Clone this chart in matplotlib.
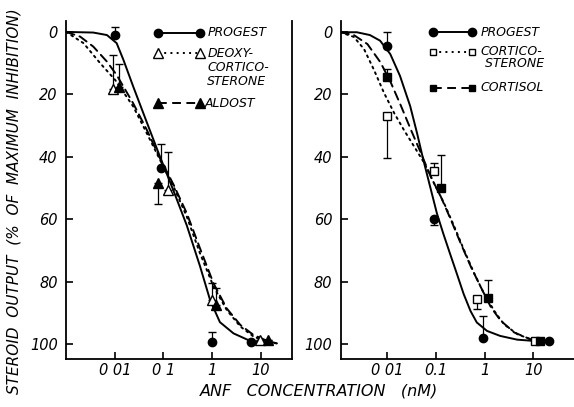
import numpy as np
import matplotlib
matplotlib.use("Agg")
import matplotlib.pyplot as plt

# ---------------- data: left panel ----------------
L_prog_x = [0.01, 0.088, 1.0, 6.2]
L_prog_y = [1, 43.5, 99.3, 99.3]
L_prog_eup = [2.5, 7.5, 3.3, 0]
L_prog_edn = [0, 0, 0, 0]

L_deoxy_x = [0.0093, 0.126, 1.0, 9.6]
L_deoxy_y = [18.4, 50.6, 85.9, 98.7]
L_deoxy_eup = [11, 12.2, 5.6, 0]
L_deoxy_edn = [0, 0, 0, 0]

L_aldo_x = [0.0123, 0.079, 1.2, 13.8]
L_aldo_y = [17.5, 48.5, 87.5, 98.7]
L_aldo_eup = [7.2, 0, 5.3, 0]
L_aldo_edn = [0, 6.5, 0, 0]

# fitted curves (log10 conc, % inhibition)
L_prog_cx = [-3.0, -2.44, -2.16, -1.96, -1.82, -1.62, -1.34, -1.07, -0.8, -0.52, -0.25, -0.04, 0.16, 0.44, 0.78, 1.23]
L_prog_cy = [0, 0.2, 1, 3.6, 9, 17.5, 29, 40, 50.6, 62, 75, 86, 93, 96.6, 99, 99.8]
L_deoxy_cx = [-3.0, -2.64, -2.30, -1.99, -1.62, -1.34, -1.07, -0.79, -0.52, -0.25, 0.03, 0.30, 0.58, 0.85, 1.12, 1.33]
L_deoxy_cy = [0, 3.6, 10, 15.4, 23.9, 32.5, 41, 49.6, 59.2, 70.9, 81.6, 89.1, 94.4, 97.6, 99.3, 99.8]
L_aldo_cx = [-3.0, -2.71, -2.44, -2.16, -1.96, -1.62, -1.34, -1.07, -0.79, -0.52, -0.25, 0.03, 0.30, 0.58, 0.85, 1.12, 1.33]
L_aldo_cy = [0, 1.5, 4.7, 9.5, 13.8, 22.9, 31.4, 40.5, 49, 58.1, 69.3, 80.6, 88.6, 93.9, 97.1, 98.9, 99.8]

# ---------------- data: right panel ----------------
R_prog_x = [0.01, 0.091, 0.93, 21]
R_prog_y = [4.4, 59.8, 98.2, 99]
R_prog_eup = [4.4, 0, 7.2, 0]
R_prog_edn = [0, 2, 0, 0]

R_cortico_x = [0.01, 0.089, 0.7, 11]
R_cortico_y = [27, 44.7, 85.6, 99]
R_cortico_eup = [0, 2.7, 0, 0]
R_cortico_edn = [13.4, 0, 3.2, 0]

R_cortisol_x = [0.01, 0.126, 1.15, 14]
R_cortisol_y = [14.6, 50.1, 85.1, 99]
R_cortisol_eup = [2.6, 10.7, 5.6, 0]
R_cortisol_edn = [0, 0, 0, 0]

R_prog_cx = [-2.97, -2.63, -2.36, -2.15, -1.94, -1.74, -1.53, -1.39, -1.26, -1.12, -0.98, -0.85, -0.71, -0.57, -0.43, -0.29, -0.16, 0.05, 0.32, 0.67, 1.01]
R_prog_cy = [0.1, 0.1, 1, 2.8, 7.1, 14.1, 23.8, 32.4, 41, 49.6, 58.2, 64.6, 71.1, 77.5, 84, 89.4, 93.1, 95.8, 97.4, 98.6, 99]
R_cortisol_cx = [-2.97, -2.69, -2.41, -2.14, -1.93, -1.72, -1.52, -1.31, -1.11, -0.90, -0.69, -0.49, -0.28, -0.08, 0.13, 0.33, 0.61, 0.95, 1.22]
R_cortisol_cy = [0.1, 1, 3.9, 9.8, 16.2, 23.7, 31.2, 38.8, 46.3, 52.8, 60.3, 67.8, 75.3, 81.7, 88.2, 92.5, 96.3, 98.5, 99]
R_cortico_cx = [-2.97, -2.69, -2.48, -2.28, -2.07, -1.86, -1.66, -1.45, -1.24, -1.04, -0.83, -0.62, -0.42, -0.21, -0.01, 0.20, 0.40, 0.68, 0.95]
R_cortico_cy = [0.1, 1.6, 5.5, 12, 19.5, 26, 31.4, 36.7, 42, 48.5, 55, 62.5, 70, 77.5, 83.9, 89.4, 93.7, 96.9, 98.5]

xtick_vals = [0.01, 0.1, 1, 10]
L_xticklabels = ["0 01", "0 1", "1", "10"]
R_xticklabels = ["0 01", "0.1", "1", "10"]
ytick_vals = [0, 20, 40, 60, 80, 100]
ytick_labels = ["0", "20", "40", "60", "80", "100"]

W, H = 574, 407
fig = plt.figure(figsize=(W / 100, H / 100), dpi=100)
fig.patch.set_facecolor("white")

def px_axes(x0, x1, ytop, ybot):
    return fig.add_axes([x0 / W, 1 - ybot / H, (x1 - x0) / W, (ybot - ytop) / H])

axL = px_axes(66, 292, 21, 359)
axR = px_axes(340.7, 575, 21, 359)

tick_font = dict(fontsize=10.5, style="italic", family="DejaVu Sans")

def style_axes(ax, xmin, xmax, xlabels, right_spine):
    ax.set_xscale("log")
    ax.set_xlim(xmin, xmax)
    ax.set_ylim(104.8, -3.5)
    ax.spines["top"].set_visible(False)
    ax.spines["right"].set_visible(right_spine)
    for s in ax.spines.values():
        s.set_linewidth(1.3)
        s.set_color("black")
    ax.set_xticks(xtick_vals)
    ax.set_xticklabels(xlabels, **tick_font)
    ax.xaxis.set_minor_locator(matplotlib.ticker.NullLocator())
    ax.set_yticks(ytick_vals)
    ax.set_yticklabels(ytick_labels, **tick_font)
    ax.tick_params(axis="both", direction="in", length=5, width=1.2, colors="black")
    ax.tick_params(axis="x", pad=3)
    ax.tick_params(axis="y", pad=6)
    ax.patch.set_visible(False)

style_axes(axL, 10 ** -3.0, 10 ** 1.64, L_xticklabels, True)
style_axes(axR, 10 ** -2.96, 10 ** 1.86, R_xticklabels, False)

DOT = (0, (1.0, 2.2))
DASH = (0, (4.5, 2.8))

def curve(ax, cx, cy, ls):
    ax.plot(10 ** np.array(cx), cy, color="black", lw=1.4, linestyle=ls,
            dash_capstyle="round", zorder=2)

def points(ax, x, y, eup, edn, marker, filled, ms):
    ax.errorbar(x, y, yerr=[eup, edn], fmt="none", ecolor="black",
                elinewidth=0.9, capsize=3.2, capthick=1.0, zorder=3)
    ax.plot(x, y, linestyle="none", marker=marker, ms=ms,
            mfc="black" if filled else "white", mec="black", mew=1.0, zorder=4)

# left panel
curve(axL, L_prog_cx, L_prog_cy, "-")
curve(axL, L_deoxy_cx, L_deoxy_cy, DOT)
curve(axL, L_aldo_cx, L_aldo_cy, DASH)
points(axL, L_prog_x, L_prog_y, L_prog_eup, L_prog_edn, "o", True, 6)
points(axL, L_deoxy_x, L_deoxy_y, L_deoxy_eup, L_deoxy_edn, "^", False, 7)
points(axL, L_aldo_x, L_aldo_y, L_aldo_eup, L_aldo_edn, "^", True, 7)

# right panel
curve(axR, R_prog_cx, R_prog_cy, "-")
curve(axR, R_cortico_cx, R_cortico_cy, DOT)
curve(axR, R_cortisol_cx, R_cortisol_cy, DASH)
points(axR, R_prog_x, R_prog_y, R_prog_eup, R_prog_edn, "o", True, 6)
points(axR, R_cortico_x, R_cortico_y, R_cortico_eup, R_cortico_edn, "s", False, 5.5)
points(axR, R_cortisol_x, R_cortisol_y, R_cortisol_eup, R_cortisol_edn, "s", True, 5.5)

# legends drawn in axes coordinates
leg_font = dict(fontsize=9, style="italic", family="DejaVu Sans", va="center", ha="left")

def leg_entry(ax, x0, x1, y, ls, marker, filled, ms, lines, xt, dy):
    ax.plot([x0, x1], [y, y], transform=ax.transAxes, color="black", lw=1.4,
            linestyle=ls, marker=marker, ms=ms, mfc="black" if filled else "white",
            mec="black", mew=1.0, clip_on=False, zorder=5)
    for i, t in enumerate(lines):
        ax.text(xt, y - i * dy, t, transform=ax.transAxes, **leg_font)

leg_entry(axL, 0.407, 0.593, 0.9645, "-", "o", True, 6, ["PROGEST"], 0.625, 0.042)
leg_entry(axL, 0.407, 0.593, 0.905, DOT, "^", False, 6.5, ["DEOXY-", "CORTICO-", "STERONE"], 0.625, 0.0415)
leg_entry(axL, 0.407, 0.593, 0.757, DASH, "^", True, 6.5, ["ALDOST"], 0.615, 0.042)

leg_entry(axR, 0.394, 0.561, 0.9666, "-", "o", True, 6, ["PROGEST"], 0.597, 0.035)
leg_entry(axR, 0.394, 0.561, 0.909, DOT, "s", False, 5, ["CORTICO-", " STERONE"], 0.597, 0.035)
leg_entry(axR, 0.394, 0.561, 0.802, DASH, "s", True, 5, ["CORTISOL"], 0.597, 0.035)

fig.text(14 / W, 1 - 201 / H, "STEROID  OUTPUT  (%  OF  MAXIMUM  INHIBITION)",
         rotation=90, ha="center", va="center", fontsize=11, style="italic",
         family="DejaVu Sans")
fig.text(319 / W, 1 - 391 / H, "ANF   CONCENTRATION   (nM)", ha="center", va="center",
         fontsize=11.5, style="italic", family="DejaVu Sans")

fig.savefig("out.png", dpi=100, facecolor="white")
